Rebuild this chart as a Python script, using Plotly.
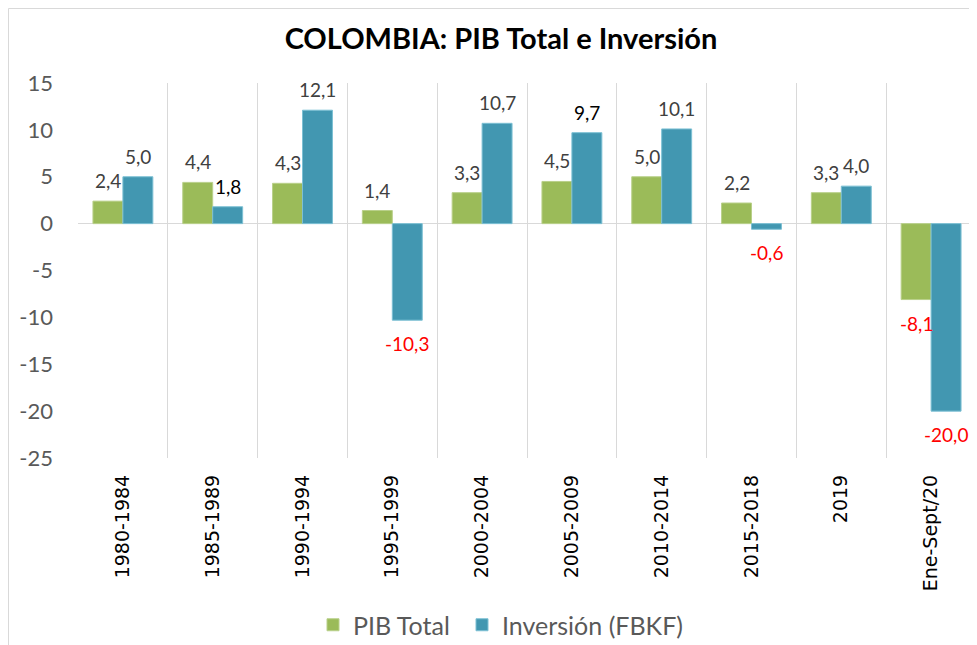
import plotly.graph_objects as go

categories = ["1980-1984", "1985-1989", "1990-1994", "1995-1999", "2000-2004",
              "2005-2009", "2010-2014", "2015-2018", "2019", "Ene-Sept/20"]
pib_total = [2.4, 4.4, 4.3, 1.4, 3.3, 4.5, 5.0, 2.2, 3.3, -8.1]
inversion = [5.0, 1.8, 12.1, -10.3, 10.7, 9.7, 10.1, -0.6, 4.0, -20.0]
y_ticks = [15, 10, 5, 0, -5, -10, -15, -20, -25]

# page body has an 8px margin, so the figure is sized to the visible area
W, H = 969, 637
L, R, T, B = 70, 1, 75, 187
pw, ph = W - L - R, H - T - B
BARGAP = 0.333
bar_w = pw / len(categories) * (1 - BARGAP) / 2

def fmt(v):
    return f"{v:.1f}".replace(".", ",")

def label_colors(vals, special=()):
    out = []
    for i, v in enumerate(vals):
        if v < 0:
            out.append("#FF0000")
        elif i in special:
            out.append("#000000")
        else:
            out.append("#404040")
    return out

fig = go.Figure()
fig.add_trace(go.Bar(
    name="PIB Total", x=categories, y=pib_total, legend="legend", showlegend=True,
    marker=dict(color="#9BBB59", line=dict(color="#B9D08A", width=1)),
))
fig.add_trace(go.Bar(
    name="Inversión (FBKF)", x=categories, y=inversion, legend="legend2", showlegend=True,
    marker=dict(color="#4297B1", line=dict(color="#7CC0D4", width=1)),
))

annotations = []
for vals, shift, cols in [(pib_total, -bar_w / 2, label_colors(pib_total)),
                          (inversion, bar_w / 2, label_colors(inversion, special=(1, 5)))]:
    for i, (v, col) in enumerate(zip(vals, cols)):
        pos = v >= 0
        annotations.append(dict(
            x=i, y=v, xref="x", yref="y", text=fmt(v), showarrow=False,
            xshift=shift, yshift=7 if pos else -10,
            yanchor="bottom" if pos else "top", xanchor="center",
            font=dict(family="Lato", size=19, color=col),
        ))

legend_y = -(617 - (T + ph)) / ph
legend_font = dict(family="Lato", size=25, color="#595959")

fig.update_layout(
    width=W, height=H,
    margin=dict(l=L, r=R, t=T, b=B, autoexpand=False),
    paper_bgcolor="white", plot_bgcolor="white",
    barmode="group", bargap=BARGAP, bargroupgap=0,
    showlegend=True,
    title=dict(text="<b>COLOMBIA: PIB Total e Inversión</b>",
               font=dict(family="Lato", size=29, color="#000000"),
               x=493 / W, xref="container", xanchor="center",
               y=1 - 31 / H, yref="container", yanchor="middle"),
    legend=dict(orientation="h", x=(305 - L) / pw, xanchor="left", visible=True,
                y=legend_y, yanchor="middle", font=legend_font, itemwidth=30),
    legend2=dict(orientation="h", x=(454 - L) / pw, xanchor="left", visible=True,
                 y=legend_y, yanchor="middle", font=legend_font, itemwidth=30),
    annotations=annotations,
    shapes=[dict(type="rect", xref="paper", yref="paper",
                 x0=(0.5 - L) / pw, x1=(990 - L) / pw,
                 y0=(T + ph - 660) / ph, y1=(T + ph - 0.5) / ph,
                 line=dict(color="#D9D9D9", width=1), fillcolor="rgba(0,0,0,0)",
                 layer="below")],
)
fig.update_xaxes(
    type="category", range=[-0.5, len(categories) - 0.5],
    tickson="boundaries", showgrid=True, gridcolor="#D9D9D9", gridwidth=1,
    ticks="", showline=False, tickangle=-90, automargin=False,
    tickfont=dict(family="DejaVu Sans", size=19, color="#000000"),
    ticklabelstandoff=12,
)
fig.update_yaxes(
    range=[-25, 15], tickvals=y_ticks, ticktext=[str(v) for v in y_ticks],
    showgrid=False, zeroline=True, zerolinecolor="#D9D9D9", zerolinewidth=1,
    showline=False, ticks="", automargin=False,
    tickfont=dict(family="Lato", size=22, color="#595959"),
    ticklabelstandoff=24,
)

fig.write_html("out.html")
